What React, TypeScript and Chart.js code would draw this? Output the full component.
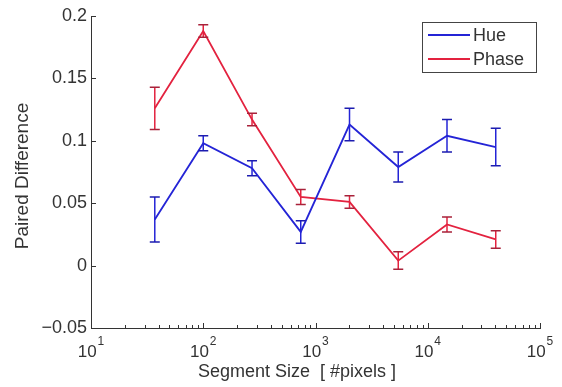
import React, { useEffect, useRef } from "react";
import { Chart, registerables } from "chart.js";

Chart.register(...registerables);

const segmentSizes = [37, 100, 272, 739, 2009, 5460, 14841, 40343];
const hueMean = [0.037, 0.098, 0.078, 0.027, 0.113, 0.079, 0.104, 0.095];
const hueErr = [0.018, 0.006, 0.006, 0.009, 0.013, 0.012, 0.013, 0.015];
const phaseMean = [0.126, 0.188, 0.117, 0.055, 0.051, 0.004, 0.033, 0.021];
const phaseErr = [0.017, 0.005, 0.005, 0.006, 0.005, 0.007, 0.006, 0.007];
const xTickValues = [10, 100, 1000, 10000, 100000];
const xTickBases = ["10", "10", "10", "10", "10"];
const xTickExponents = ["1", "2", "3", "4", "5"];
const yTickValues = [-0.05, 0, 0.05, 0.1, 0.15, 0.2];
const yTickLabels = ["\u22120.05", "0", "0.05", "0.1", "0.15", "0.2"];
const seriesNames = ["Hue", "Phase"];
const xAxisTitle = "Segment Size  [ #pixels ]";
const yAxisTitle = "Paired Difference";

const BLUE = "#2424d6";
const RED = "#e3223f";
const TEXT = "#333";
const FONT = "'Liberation Sans', Arial, sans-serif";

const errorBarPlugin = {
  id: "errorBars",
  afterDatasetsDraw(chart: any) {
    const ctx = chart.ctx;
    const yScale = chart.scales.y;
    chart.data.datasets.forEach((ds: any, i: number) => {
      const meta = chart.getDatasetMeta(i);
      const errs = ds.errors as number[];
      ctx.save();
      ctx.lineWidth = 1.5;
      meta.data.forEach((pt: any, j: number) => {
        const v = ds.data[j].y;
        const yHi = yScale.getPixelForValue(v + errs[j]);
        const yLo = yScale.getPixelForValue(v - errs[j]);
        const x = pt.x;
        ctx.strokeStyle = ds.borderColor;
        ctx.beginPath();
        ctx.moveTo(x, yHi);
        ctx.lineTo(x, yLo);
        ctx.stroke();
        ctx.strokeStyle = ds.capColor;
        ctx.beginPath();
        ctx.moveTo(x - 5, yHi);
        ctx.lineTo(x + 5, yHi);
        ctx.moveTo(x - 5, yLo);
        ctx.lineTo(x + 5, yLo);
        ctx.stroke();
      });
      ctx.restore();
    });
  },
};

const axisDecorPlugin = {
  id: "axisDecor",
  afterDraw(chart: any) {
    const ctx = chart.ctx;
    const { left, bottom, top } = chart.chartArea;
    const xs = chart.scales.x;
    const ys = chart.scales.y;
    ctx.save();
    ctx.strokeStyle = TEXT;
    ctx.lineWidth = 1;
    ctx.beginPath();
    for (let d = 1; d <= 5; d++) {
      const base = Math.pow(10, d);
      for (let m = 1; m <= 9; m++) {
        const v = base * m;
        if (v > 100000) break;
        const px = Math.round(xs.getPixelForValue(v)) + 0.5;
        const len = m === 1 ? 5 : 3;
        ctx.moveTo(px, bottom);
        ctx.lineTo(px, bottom - len);
      }
    }
    yTickValues.forEach((v) => {
      const py = Math.round(ys.getPixelForValue(v)) + 0.5;
      ctx.moveTo(left, py);
      ctx.lineTo(left + 5, py);
    });
    ctx.stroke();

    // x tick labels: 10 with superscript exponent
    ctx.fillStyle = TEXT;
    ctx.textBaseline = "alphabetic";
    ctx.textAlign = "left";
    xTickValues.forEach((v, i) => {
      const px = xs.getPixelForValue(v);
      ctx.font = `17px ${FONT}`;
      const wb = ctx.measureText(xTickBases[i]).width;
      ctx.font = `12px ${FONT}`;
      const we = ctx.measureText(xTickExponents[i]).width;
      const x0 = px - (wb + we + 1) / 2;
      ctx.font = `17px ${FONT}`;
      ctx.fillText(xTickBases[i], x0, bottom + 29);
      ctx.font = `12px ${FONT}`;
      ctx.fillText(xTickExponents[i], x0 + wb + 1, bottom + 17);
    });

    // axis titles
    ctx.font = `18px ${FONT}`;
    ctx.textAlign = "center";
    ctx.fillText(xAxisTitle, 297, 377);
    ctx.save();
    ctx.translate(28, 176);
    ctx.rotate(-Math.PI / 2);
    ctx.font = `19px ${FONT}`;
    ctx.fillText(yAxisTitle, 0, 0);
    ctx.restore();
    ctx.restore();
  },
};

const boxLegendPlugin = {
  id: "boxLegend",
  afterDraw(chart: any) {
    const ctx = chart.ctx;
    const { right, top } = chart.chartArea;
    const bx = right - 118;
    const by = top + 6;
    const bw = 114;
    const bh = 50;
    ctx.save();
    ctx.fillStyle = "#fff";
    ctx.fillRect(bx, by, bw, bh);
    ctx.strokeStyle = "#444";
    ctx.lineWidth = 1;
    ctx.strokeRect(Math.round(bx) + 0.5, Math.round(by) + 0.5, bw, bh);
    ctx.font = `18px ${FONT}`;
    ctx.textBaseline = "middle";
    chart.data.datasets.forEach((ds: any, i: number) => {
      const ly = by + 13 + i * 24;
      ctx.strokeStyle = ds.borderColor;
      ctx.lineWidth = 2;
      ctx.beginPath();
      ctx.moveTo(bx + 6, ly);
      ctx.lineTo(bx + 48, ly);
      ctx.stroke();
      ctx.fillStyle = TEXT;
      ctx.fillText(ds.label, bx + 51, ly + 1);
    });
    ctx.restore();
  },
};

export default function App() {
  const canvasRef = useRef<HTMLCanvasElement | null>(null);

  useEffect(() => {
    if (!canvasRef.current) return;
    const chart = new Chart(canvasRef.current, {
      type: "line",
      data: {
        datasets: [
          {
            label: seriesNames[0],
            data: segmentSizes.map((x, i) => ({ x, y: hueMean[i] })),
            errors: hueErr,
            borderColor: BLUE,
            capColor: "#1c1cb0",
            borderWidth: 1.8,
            pointRadius: 0,
            tension: 0,
            fill: false,
          } as any,
          {
            label: seriesNames[1],
            data: segmentSizes.map((x, i) => ({ x, y: phaseMean[i] })),
            errors: phaseErr,
            borderColor: RED,
            capColor: "#a8223a",
            borderWidth: 1.8,
            pointRadius: 0,
            tension: 0,
            fill: false,
          } as any,
        ],
      },
      options: {
        animation: false,
        responsive: true,
        maintainAspectRatio: false,
        layout: { padding: { left: 0, right: 22, top: 16, bottom: 0 } },
        plugins: {
          legend: { display: false },
          tooltip: { enabled: false },
        },
        scales: {
          x: {
            type: "logarithmic",
            min: 10,
            max: 100000,
            afterBuildTicks: (scale: any) => {
              scale.ticks = xTickValues.map((value) => ({ value }));
            },
            afterFit: (scale: any) => {
              scale.height = 59;
            },
            ticks: { display: false },
            grid: { display: false, drawTicks: false },
            border: { display: true, color: TEXT, width: 1 },
            title: { display: false },
          },
          y: {
            type: "linear",
            min: -0.05,
            max: 0.2,
            afterBuildTicks: (scale: any) => {
              scale.ticks = yTickValues.map((value) => ({ value }));
            },
            afterFit: (scale: any) => {
              scale.width = 91;
            },
            ticks: {
              autoSkip: false,
              padding: 4,
              color: TEXT,
              font: { family: FONT, size: 18 },
              callback: (v: any) => {
                const idx = yTickValues.findIndex((t) => Math.abs(t - Number(v)) < 1e-9);
                return idx >= 0 ? yTickLabels[idx] : "";
              },
            },
            grid: { display: false, drawTicks: false },
            border: { display: true, color: TEXT, width: 1 },
            title: { display: false },
          },
        },
      } as any,
      plugins: [errorBarPlugin, axisDecorPlugin, boxLegendPlugin],
    });
    return () => chart.destroy();
  }, []);

  return (
    <div style={{ position: "absolute", left: 0, top: 0, width: 562, height: 387, background: "#fff" }}>
      <canvas ref={canvasRef} />
    </div>
  );
}
